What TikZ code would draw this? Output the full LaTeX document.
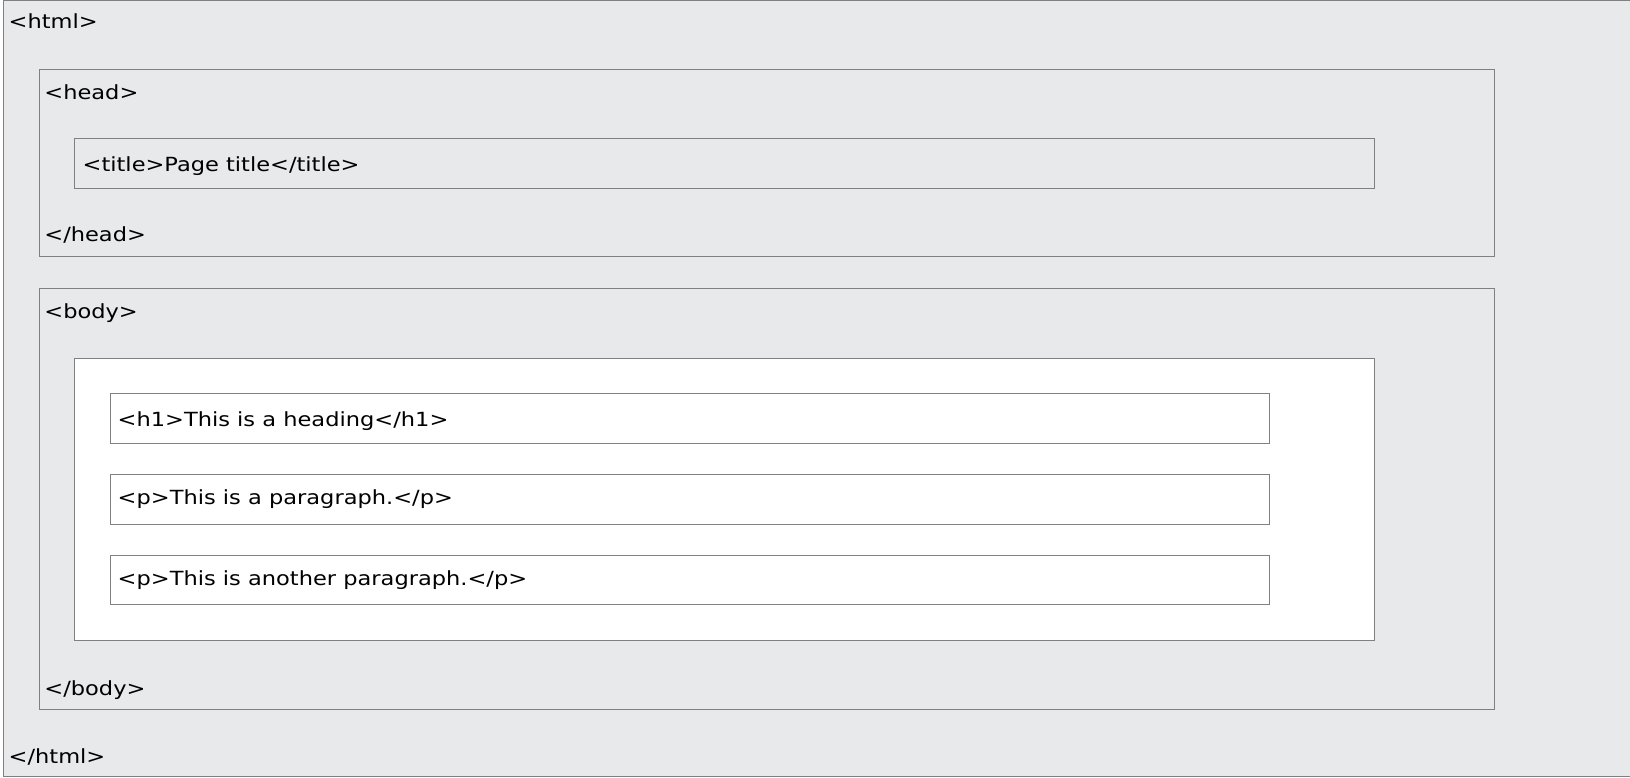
\documentclass[tikz,border=0pt]{standalone}
\usepackage{fontspec}
\setmainfont{DejaVu Sans}[FakeStretch=1.155]
\definecolor{bggray}{HTML}{E7E9EB}
\definecolor{linegray}{HTML}{808080}
\tikzset{
  box/.style={draw=linegray, line width=1pt, anchor=north west, inner sep=0pt, outer sep=0pt},
  tag/.style={anchor=base west, inner sep=0pt, outer sep=0pt, text=black, font=\fontsize{19.5}{24}\selectfont}
}
\begin{document}
\begin{tikzpicture}[x=1pt,y=-1pt]
\useasboundingbox (0,0) rectangle (1630,778);
% outer html box
\node[box, fill=bggray, minimum width=1640pt, minimum height=776pt] (htmlbox) at (3.5,0.5) {};
% head
\node[box, minimum width=1455pt, minimum height=187pt] (headbox) at (39.5,69.5) {};
\node[box, minimum width=1300pt, minimum height=50pt] (titlebox) at (74.5,138.5) {};
% body
\node[box, minimum width=1455pt, minimum height=421pt] (bodybox) at (39.5,288.5) {};
\node[box, fill=white, minimum width=1300pt, minimum height=282pt] (mainbox) at (74.5,358.5) {};
\node[box, fill=white, minimum width=1159pt, minimum height=50pt] (h1box) at (110.5,393.5) {};
\node[box, fill=white, minimum width=1159pt, minimum height=50pt] (p1box) at (110.5,474.5) {};
\node[box, fill=white, minimum width=1159pt, minimum height=49pt] (p2box) at (110.5,555.5) {};
% texts
\node[tag] (thtml) at (8.7,28.3) {<html>};
\node[tag] (thead) at (44.4,100) {<head>};
\node[tag] (ttitle) at (82.7,171.7) {<title>Page title</title>};
\node[tag] (theadc) at (44.4,241.7) {</head>};
\node[tag] (tbody) at (44.4,318.3) {<body>};
\node[tag] (th1) at (117.7,426) {<h1>This is a heading</h1>};
\node[tag] (tp1) at (117.7,504.3) {<p>This is a paragraph.</p>};
\node[tag] (tp2) at (117.7,585) {<p>This is another paragraph.</p>};
\node[tag] (tbodyc) at (44.4,695) {</body>};
\node[tag] (thtmlc) at (8.7,763.3) {</html>};
\end{tikzpicture}
\end{document}
